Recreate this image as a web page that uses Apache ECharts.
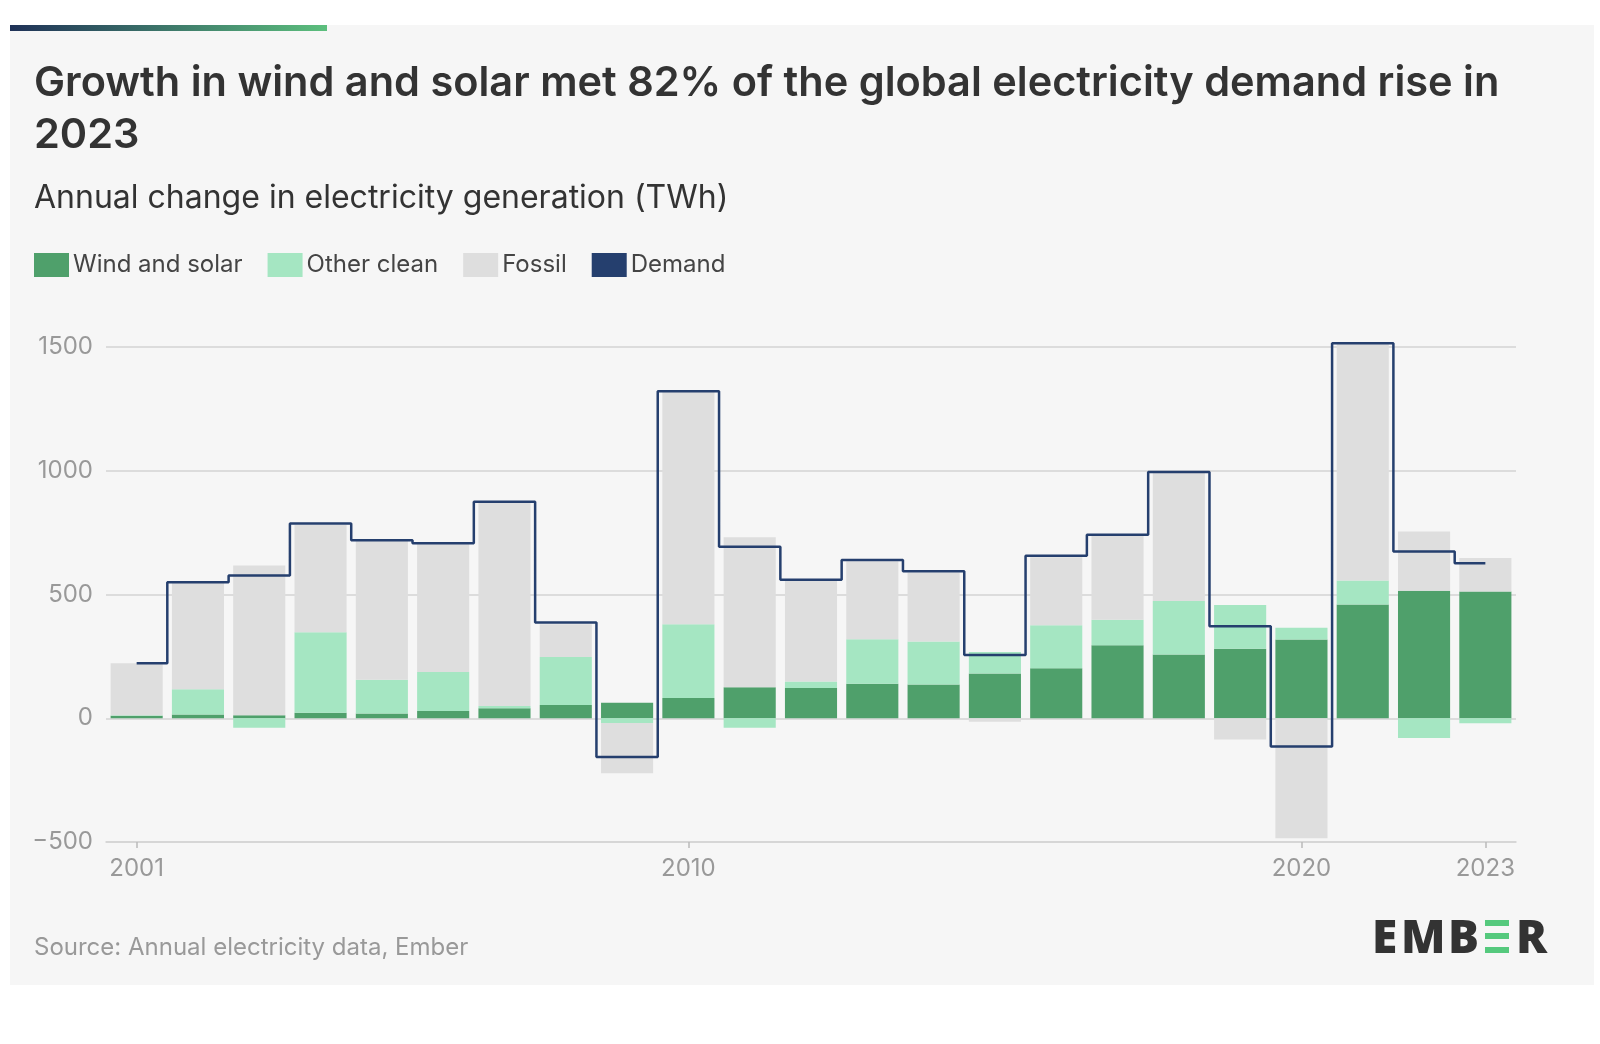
<!DOCTYPE html>
<html>
<head>
<meta charset="utf-8">
<script src="https://cdn.jsdelivr.net/npm/echarts@6/dist/echarts.min.js"></script>
<style>
html,body{margin:0;padding:0;background:#ffffff;}
#chart{width:1600px;height:1044px;}
</style>
</head>
<body>
<div id="chart"></div>
<script>
const years = ['2001','2002','2003','2004','2005','2006','2007','2008','2009','2010','2011','2012','2013','2014','2015','2016','2017','2018','2019','2020','2021','2022','2023'];
const windSolar = [10,15,12,22,19,29,40,54,63,82,125,122,139,136,181,202,295,258,281,318,460,515,512];
const otherClean = [2,102,-38,325,137,158,9,193,-19,298,-38,26,180,174,87,174,103,216,177,48,97,-80,-20];
const fossil = [210,430,605,434,563,517,821,133,-203,938,606,409,315,279,-14,275,338,520,-86,-485,958,240,135];
const demand = [222,549,577,787,719,707,875,387,-157,1321,693,560,639,594,256,657,741,995,372,-114,1515,674,626];
const shownYears = ['2001','2010','2020','2023'];
const yTicks = [-500,0,500,1000,1500];

const FONT = 'Inter, "Noto Sans", sans-serif';
const chart = echarts.init(document.getElementById('chart'), null, {renderer:'canvas'});
const showIdx = (i, v) => shownYears.indexOf(years[i]) >= 0;

chart.setOption({
  backgroundColor: '#ffffff',
  animation: false,
  graphic: [
    {type:'rect', z:-10, shape:{x:10,y:25,width:1584,height:960}, style:{fill:'#f6f6f6'}},
    {type:'rect', z:-9, shape:{x:10,y:25,width:317,height:6}, style:{fill:new echarts.graphic.LinearGradient(0,0,1,0,[{offset:0,color:'#1f3157'},{offset:1,color:'#5cbf7d'}])}},
    {type:'text', left:1372, top:917, style:{text:'E', font:'800 46px "Open Sans", sans-serif', fill:'#333333'}},
    {type:'text', left:1401, top:917, style:{text:'M', font:'800 46px "Open Sans", sans-serif', fill:'#333333'}},
    {type:'text', left:1448, top:917, style:{text:'B', font:'800 46px "Open Sans", sans-serif', fill:'#333333'}},
    {type:'rect', shape:{x:1485,y:920,width:24,height:6}, style:{fill:'#55c97d'}},
    {type:'rect', shape:{x:1485,y:933,width:24,height:6}, style:{fill:'#55c97d'}},
    {type:'rect', shape:{x:1485,y:947,width:24,height:6}, style:{fill:'#55c97d'}},
    {type:'text', left:1516, top:917, style:{text:'R', font:'800 46px "Open Sans", sans-serif', fill:'#333333'}}
  ],
  title: [
    {text:'Growth in wind and solar met 82% of the global electricity demand rise in\n2023', left:34, top:58, padding:0,
     textStyle:{fontFamily:FONT, fontWeight:600, fontSize:41.5, lineHeight:52, color:'#333333'}},
    {text:'Annual change in electricity generation (TWh)', left:34, top:180, padding:0,
     textStyle:{fontFamily:FONT, fontWeight:400, fontSize:32, lineHeight:36, color:'#333333'}},
    {text:'Source: Annual electricity data, Ember', left:34, top:936, padding:0,
     textStyle:{fontFamily:FONT, fontWeight:400, fontSize:24, lineHeight:24, color:'#999999'}}
  ],
  legend: {
    left: 34, top: 253, padding: 0, icon: 'rect', itemWidth: 35, itemHeight: 24, itemGap: 25,
    textStyle: {fontFamily:FONT, fontSize:24, color:'#444444', padding:[0,0,0,-1]},
    data: ['Wind and solar','Other clean','Fossil','Demand']
  },
  grid: {left:106, right:84, top:347, bottom:202, containLabel:false},
  xAxis: {
    type:'category', data: years, boundaryGap:true,
    axisLine:{show:true, onZero:false, lineStyle:{color:'#d3d3d3', width:1.5}},
    axisTick:{show:true, alignWithLabel:true, interval: showIdx, length:6, lineStyle:{color:'#bbbbbb', width:1.5}},
    axisLabel:{interval: showIdx, margin:15, fontFamily:FONT, fontSize:24, color:'#999999'}
  },
  yAxis: {
    type:'value', min:-500, max:1500, interval:500,
    axisLine:{show:false}, axisTick:{show:false},
    axisLabel:{margin:13, fontFamily:FONT, fontSize:24, color:'#999999',
      formatter: v => yTicks.indexOf(v) >= 0 ? (v < 0 ? '\u2212' + Math.abs(v) : String(v)) : ''},
    splitLine:{lineStyle:{color:'#d3d3d3', width:1.5}}
  },
  series: [
    {name:'Wind and solar', type:'bar', stack:'total', data: windSolar, barCategoryGap:'15%', clip:false,
     itemStyle:{color:'#4fa06b'}},
    {name:'Other clean', type:'bar', stack:'total', data: otherClean, clip:false,
     itemStyle:{color:'#a5e6c2'}},
    {name:'Fossil', type:'bar', stack:'total', data: fossil, clip:false,
     itemStyle:{color:'#dedede'}},
    {name:'Demand', type:'line', step:'middle', data: demand, showSymbol:false, symbol:'none', clip:false, z:5,
     itemStyle:{color:'#253f6e'}, lineStyle:{color:'#253f6e', width:2.5}}
  ]
});
</script>
</body>
</html>
